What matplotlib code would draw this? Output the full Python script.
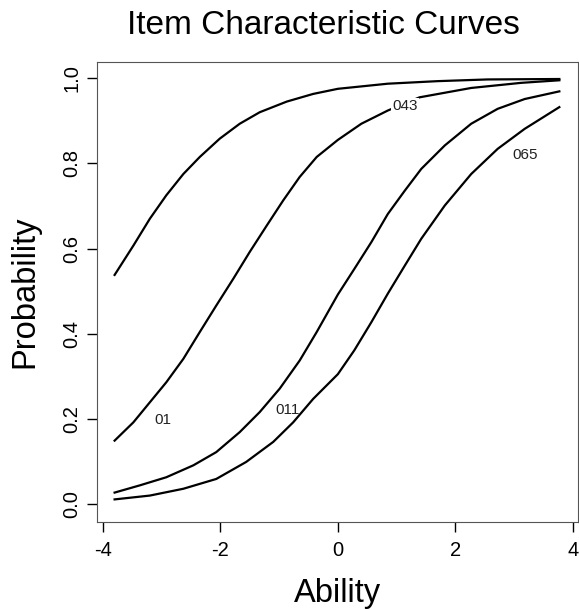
import numpy as np
import matplotlib
matplotlib.use("Agg")
import matplotlib.pyplot as plt

plt.rcParams["font.family"] = ["Liberation Sans", "DejaVu Sans"]
plt.rcParams["axes.unicode_minus"] = False

x01 = [-3.80, -3.48, -3.20, -2.92, -2.63, -2.35, -2.01, -1.67, -1.33, -0.87, -0.42, 0.00, 0.85, 1.70, 2.55, 3.77]
p01 = [0.538, 0.607, 0.670, 0.725, 0.775, 0.815, 0.858, 0.893, 0.920, 0.945, 0.963, 0.975, 0.987, 0.993, 0.997, 0.998]

x043 = [-3.80, -3.48, -3.20, -2.92, -2.63, -2.35, -2.07, -1.78, -1.50, -1.21, -0.93, -0.65, -0.36, 0.00,
        0.40, 0.85, 1.39, 2.27, 3.12, 3.77]
p043 = [0.149, 0.192, 0.239, 0.286, 0.341, 0.404, 0.466, 0.529, 0.592, 0.654, 0.713, 0.768, 0.815, 0.855,
        0.893, 0.924, 0.955, 0.977, 0.989, 0.995]

x011 = [-3.80, -3.37, -2.92, -2.46, -2.07, -1.67, -1.33, -0.99, -0.65, -0.36, 0.00, 0.28, 0.57, 0.85,
        1.14, 1.42, 1.82, 2.27, 2.72, 3.18, 3.77]
p011 = [0.027, 0.044, 0.063, 0.091, 0.122, 0.169, 0.216, 0.271, 0.337, 0.404, 0.492, 0.552, 0.615, 0.681,
        0.736, 0.787, 0.842, 0.893, 0.928, 0.951, 0.969]

x065 = [-3.80, -3.20, -2.63, -2.07, -1.56, -1.10, -0.76, -0.42, 0.00, 0.28, 0.57, 0.85, 1.14, 1.42,
        1.82, 2.27, 2.72, 3.18, 3.77]
p065 = [0.011, 0.020, 0.036, 0.059, 0.099, 0.146, 0.192, 0.247, 0.305, 0.361, 0.427, 0.494, 0.560, 0.623,
        0.701, 0.775, 0.834, 0.881, 0.932]

item_labels = ["01", "043", "011", "065"]
label_x = [-2.97, 1.14, -0.86, 3.18]
label_y = [0.198, 0.934, 0.220, 0.820]

fig = plt.figure(figsize=(5.79, 6.10), dpi=100)
ax = fig.add_axes([0.1675, 0.1443, 0.8305, 0.7541])

for xs, ps in [(x01, p01), (x043, p043), (x011, p011), (x065, p065)]:
    ax.plot(xs, ps, color="black", lw=1.6, solid_joinstyle="round")

for lab, lx, ly in zip(item_labels, label_x, label_y):
    t = ax.text(lx, ly, lab, fontsize=11, color="#222222", ha="center", va="center")
    if lab == "043":
        # this one sits on its own curve, which is broken behind it
        t.set_bbox(dict(facecolor="white", edgecolor="none", pad=1))

ax.set_xlim(-4.10, 4.085)
ax.set_ylim(-0.042, 1.038)
ax.set_xticks([-4, -2, 0, 2, 4])
ax.set_yticks([0.0, 0.2, 0.4, 0.6, 0.8, 1.0])
ax.set_yticklabels(["0.0", "0.2", "0.4", "0.6", "0.8", "1.0"], rotation=90, va="center")
ax.tick_params(direction="out", length=7, width=1, labelsize=14.5)
ax.tick_params(axis="x", pad=7)
ax.tick_params(axis="y", pad=4)
for s in ax.spines.values():
    s.set_color("#555555")

ax.set_xlabel("Ability", fontsize=23.5, labelpad=13)
ax.set_ylabel("Probability", fontsize=23.5, labelpad=16)
ax.set_title("Item Characteristic Curves", fontsize=24, pad=20, x=0.47)

fig.savefig("out.png", dpi=100)
